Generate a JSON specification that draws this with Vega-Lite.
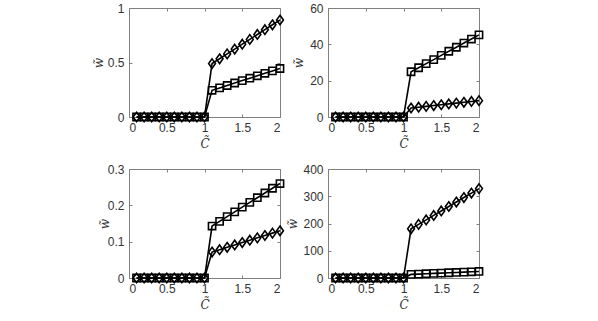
{
  "$schema": "https://vega.github.io/schema/vega-lite/v6.json",
  "background": "white",
  "padding": {"left": 92, "top": 2, "right": 5, "bottom": 5},
  "datasets": {
    "p1": [
      {"x":0.1,"y":0,"s":"sq"},{"x":0.2,"y":0,"s":"sq"},{"x":0.3,"y":0,"s":"sq"},{"x":0.4,"y":0,"s":"sq"},{"x":0.5,"y":0,"s":"sq"},{"x":0.6,"y":0,"s":"sq"},{"x":0.7,"y":0,"s":"sq"},{"x":0.8,"y":0,"s":"sq"},{"x":0.9,"y":0,"s":"sq"},{"x":1.0,"y":0,"s":"sq"},
      {"x":1.1,"y":0.245,"s":"sq"},{"x":1.2,"y":0.267,"s":"sq"},{"x":1.3,"y":0.289,"s":"sq"},{"x":1.4,"y":0.312,"s":"sq"},{"x":1.5,"y":0.334,"s":"sq"},{"x":1.6,"y":0.356,"s":"sq"},{"x":1.7,"y":0.378,"s":"sq"},{"x":1.8,"y":0.401,"s":"sq"},{"x":1.9,"y":0.423,"s":"sq"},{"x":2.0,"y":0.445,"s":"sq"},
      {"x":0.1,"y":0,"s":"di"},{"x":0.2,"y":0,"s":"di"},{"x":0.3,"y":0,"s":"di"},{"x":0.4,"y":0,"s":"di"},{"x":0.5,"y":0,"s":"di"},{"x":0.6,"y":0,"s":"di"},{"x":0.7,"y":0,"s":"di"},{"x":0.8,"y":0,"s":"di"},{"x":0.9,"y":0,"s":"di"},{"x":1.0,"y":0,"s":"di"},
      {"x":1.1,"y":0.49,"s":"di"},{"x":1.2,"y":0.534,"s":"di"},{"x":1.3,"y":0.579,"s":"di"},{"x":1.4,"y":0.623,"s":"di"},{"x":1.5,"y":0.668,"s":"di"},{"x":1.6,"y":0.712,"s":"di"},{"x":1.7,"y":0.757,"s":"di"},{"x":1.8,"y":0.801,"s":"di"},{"x":1.9,"y":0.846,"s":"di"},{"x":2.0,"y":0.89,"s":"di"}
    ],
    "p2": [
      {"x":0.1,"y":0,"s":"sq"},{"x":0.2,"y":0,"s":"sq"},{"x":0.3,"y":0,"s":"sq"},{"x":0.4,"y":0,"s":"sq"},{"x":0.5,"y":0,"s":"sq"},{"x":0.6,"y":0,"s":"sq"},{"x":0.7,"y":0,"s":"sq"},{"x":0.8,"y":0,"s":"sq"},{"x":0.9,"y":0,"s":"sq"},{"x":1.0,"y":0,"s":"sq"},
      {"x":1.1,"y":24.9,"s":"sq"},{"x":1.2,"y":27.1,"s":"sq"},{"x":1.3,"y":29.4,"s":"sq"},{"x":1.4,"y":31.6,"s":"sq"},{"x":1.5,"y":33.9,"s":"sq"},{"x":1.6,"y":36.2,"s":"sq"},{"x":1.7,"y":38.4,"s":"sq"},{"x":1.8,"y":40.7,"s":"sq"},{"x":1.9,"y":42.9,"s":"sq"},{"x":2.0,"y":45.2,"s":"sq"},
      {"x":0.1,"y":0,"s":"di"},{"x":0.2,"y":0,"s":"di"},{"x":0.3,"y":0,"s":"di"},{"x":0.4,"y":0,"s":"di"},{"x":0.5,"y":0,"s":"di"},{"x":0.6,"y":0,"s":"di"},{"x":0.7,"y":0,"s":"di"},{"x":0.8,"y":0,"s":"di"},{"x":0.9,"y":0,"s":"di"},{"x":1.0,"y":0,"s":"di"},
      {"x":1.1,"y":4.95,"s":"di"},{"x":1.2,"y":5.4,"s":"di"},{"x":1.3,"y":5.85,"s":"di"},{"x":1.4,"y":6.3,"s":"di"},{"x":1.5,"y":6.75,"s":"di"},{"x":1.6,"y":7.2,"s":"di"},{"x":1.7,"y":7.65,"s":"di"},{"x":1.8,"y":8.1,"s":"di"},{"x":1.9,"y":8.55,"s":"di"},{"x":2.0,"y":9.0,"s":"di"}
    ],
    "p3": [
      {"x":0.1,"y":0,"s":"sq"},{"x":0.2,"y":0,"s":"sq"},{"x":0.3,"y":0,"s":"sq"},{"x":0.4,"y":0,"s":"sq"},{"x":0.5,"y":0,"s":"sq"},{"x":0.6,"y":0,"s":"sq"},{"x":0.7,"y":0,"s":"sq"},{"x":0.8,"y":0,"s":"sq"},{"x":0.9,"y":0,"s":"sq"},{"x":1.0,"y":0,"s":"sq"},
      {"x":1.1,"y":0.143,"s":"sq"},{"x":1.2,"y":0.156,"s":"sq"},{"x":1.3,"y":0.169,"s":"sq"},{"x":1.4,"y":0.182,"s":"sq"},{"x":1.5,"y":0.195,"s":"sq"},{"x":1.6,"y":0.208,"s":"sq"},{"x":1.7,"y":0.221,"s":"sq"},{"x":1.8,"y":0.234,"s":"sq"},{"x":1.9,"y":0.247,"s":"sq"},{"x":2.0,"y":0.26,"s":"sq"},
      {"x":0.1,"y":0,"s":"di"},{"x":0.2,"y":0,"s":"di"},{"x":0.3,"y":0,"s":"di"},{"x":0.4,"y":0,"s":"di"},{"x":0.5,"y":0,"s":"di"},{"x":0.6,"y":0,"s":"di"},{"x":0.7,"y":0,"s":"di"},{"x":0.8,"y":0,"s":"di"},{"x":0.9,"y":0,"s":"di"},{"x":1.0,"y":0,"s":"di"},
      {"x":1.1,"y":0.0715,"s":"di"},{"x":1.2,"y":0.078,"s":"di"},{"x":1.3,"y":0.0845,"s":"di"},{"x":1.4,"y":0.091,"s":"di"},{"x":1.5,"y":0.0975,"s":"di"},{"x":1.6,"y":0.104,"s":"di"},{"x":1.7,"y":0.1105,"s":"di"},{"x":1.8,"y":0.117,"s":"di"},{"x":1.9,"y":0.1235,"s":"di"},{"x":2.0,"y":0.13,"s":"di"}
    ],
    "p4": [
      {"x":0.1,"y":0,"s":"sq"},{"x":0.2,"y":0,"s":"sq"},{"x":0.3,"y":0,"s":"sq"},{"x":0.4,"y":0,"s":"sq"},{"x":0.5,"y":0,"s":"sq"},{"x":0.6,"y":0,"s":"sq"},{"x":0.7,"y":0,"s":"sq"},{"x":0.8,"y":0,"s":"sq"},{"x":0.9,"y":0,"s":"sq"},{"x":1.0,"y":0,"s":"sq"},
      {"x":1.1,"y":13.2,"s":"sq"},{"x":1.2,"y":14.4,"s":"sq"},{"x":1.3,"y":15.6,"s":"sq"},{"x":1.4,"y":16.8,"s":"sq"},{"x":1.5,"y":18.0,"s":"sq"},{"x":1.6,"y":19.2,"s":"sq"},{"x":1.7,"y":20.4,"s":"sq"},{"x":1.8,"y":21.6,"s":"sq"},{"x":1.9,"y":22.8,"s":"sq"},{"x":2.0,"y":24.0,"s":"sq"},
      {"x":0.1,"y":0,"s":"di"},{"x":0.2,"y":0,"s":"di"},{"x":0.3,"y":0,"s":"di"},{"x":0.4,"y":0,"s":"di"},{"x":0.5,"y":0,"s":"di"},{"x":0.6,"y":0,"s":"di"},{"x":0.7,"y":0,"s":"di"},{"x":0.8,"y":0,"s":"di"},{"x":0.9,"y":0,"s":"di"},{"x":1.0,"y":0,"s":"di"},
      {"x":1.1,"y":180.4,"s":"di"},{"x":1.2,"y":196.8,"s":"di"},{"x":1.3,"y":213.2,"s":"di"},{"x":1.4,"y":229.6,"s":"di"},{"x":1.5,"y":246.0,"s":"di"},{"x":1.6,"y":262.4,"s":"di"},{"x":1.7,"y":278.8,"s":"di"},{"x":1.8,"y":295.2,"s":"di"},{"x":1.9,"y":311.6,"s":"di"},{"x":2.0,"y":328.0,"s":"di"}
    ]
  },
  "columns": 2,
  "spacing": {"row": 52, "column": 48},
  "bounds": "flush",
  "concat": [
    {
      "width": 151, "height": 109,
      "data": {"name": "p1"},
      "layer": [
        {"mark": {"type": "line", "color": "black", "strokeWidth": 1.6},
         "encoding": {
           "x": {"field": "x", "type": "quantitative", "scale": {"domain": [0, 2]}, "axis": {"orient": "bottom", "values": [0, 0.5, 1, 1.5, 2], "format": "~r", "title": "C\u0303", "titleX": 75.5, "titleY": 30, "titleBaseline": "alphabetic"}},
           "y": {"field": "y", "type": "quantitative", "scale": {"domain": [0, 1]}, "axis": {"orient": "left", "values": [0, 0.5, 1], "format": "~r", "title": "w\u0303", "titleX": -27, "titleY": 54.5, "titleBaseline": "alphabetic"}},
           "detail": {"field": "s"}}},
        {"transform": [{"filter": "datum.s === 'sq'"}],
         "mark": {"type": "point", "shape": "square", "filled": false, "color": "black", "strokeWidth": 1.6, "size": 52, "opacity": 1},
         "encoding": {
           "x": {"field": "x", "type": "quantitative", "axis": {"orient": "top", "values": [0, 0.5, 1, 1.5, 2], "labels": false, "title": null}},
           "y": {"field": "y", "type": "quantitative", "axis": {"orient": "right", "values": [0, 0.5, 1], "labels": false, "title": null}}}},
        {"transform": [{"filter": "datum.s === 'di'"}],
         "mark": {"type": "point", "shape": "M0,-1L0.72,0L0,1L-0.72,0Z", "filled": false, "color": "black", "strokeWidth": 1.6, "size": 90, "opacity": 1},
         "encoding": {
           "x": {"field": "x", "type": "quantitative", "axis": null},
           "y": {"field": "y", "type": "quantitative", "axis": null}}}
      ],
      "resolve": {"axis": {"x": "independent", "y": "independent"}}
    },
    {
      "width": 151, "height": 109,
      "data": {"name": "p2"},
      "layer": [
        {"mark": {"type": "line", "color": "black", "strokeWidth": 1.6},
         "encoding": {
           "x": {"field": "x", "type": "quantitative", "scale": {"domain": [0, 2]}, "axis": {"orient": "bottom", "values": [0, 0.5, 1, 1.5, 2], "format": "~r", "title": "C\u0303", "titleX": 75.5, "titleY": 30, "titleBaseline": "alphabetic"}},
           "y": {"field": "y", "type": "quantitative", "scale": {"domain": [0, 60]}, "axis": {"orient": "left", "values": [0, 20, 40, 60], "format": "~r", "title": "w\u0303", "titleX": -26, "titleY": 54.5, "titleBaseline": "alphabetic"}},
           "detail": {"field": "s"}}},
        {"transform": [{"filter": "datum.s === 'sq'"}],
         "mark": {"type": "point", "shape": "square", "filled": false, "color": "black", "strokeWidth": 1.6, "size": 52, "opacity": 1},
         "encoding": {
           "x": {"field": "x", "type": "quantitative", "axis": {"orient": "top", "values": [0, 0.5, 1, 1.5, 2], "labels": false, "title": null}},
           "y": {"field": "y", "type": "quantitative", "axis": {"orient": "right", "values": [0, 20, 40, 60], "labels": false, "title": null}}}},
        {"transform": [{"filter": "datum.s === 'di'"}],
         "mark": {"type": "point", "shape": "M0,-1L0.72,0L0,1L-0.72,0Z", "filled": false, "color": "black", "strokeWidth": 1.6, "size": 90, "opacity": 1},
         "encoding": {
           "x": {"field": "x", "type": "quantitative", "axis": null},
           "y": {"field": "y", "type": "quantitative", "axis": null}}}
      ],
      "resolve": {"axis": {"x": "independent", "y": "independent"}}
    },
    {
      "width": 151, "height": 109,
      "data": {"name": "p3"},
      "layer": [
        {"mark": {"type": "line", "color": "black", "strokeWidth": 1.6},
         "encoding": {
           "x": {"field": "x", "type": "quantitative", "scale": {"domain": [0, 2]}, "axis": {"orient": "bottom", "values": [0, 0.5, 1, 1.5, 2], "format": "~r", "title": "C\u0303", "titleX": 75.5, "titleY": 30, "titleBaseline": "alphabetic"}},
           "y": {"field": "y", "type": "quantitative", "scale": {"domain": [0, 0.3]}, "axis": {"orient": "left", "values": [0, 0.1, 0.2, 0.3], "format": "~r", "title": "w\u0303", "titleX": -21, "titleY": 54.5, "titleBaseline": "alphabetic"}},
           "detail": {"field": "s"}}},
        {"transform": [{"filter": "datum.s === 'sq'"}],
         "mark": {"type": "point", "shape": "square", "filled": false, "color": "black", "strokeWidth": 1.6, "size": 52, "opacity": 1},
         "encoding": {
           "x": {"field": "x", "type": "quantitative", "axis": {"orient": "top", "values": [0, 0.5, 1, 1.5, 2], "labels": false, "title": null}},
           "y": {"field": "y", "type": "quantitative", "axis": {"orient": "right", "values": [0, 0.1, 0.2, 0.3], "labels": false, "title": null}}}},
        {"transform": [{"filter": "datum.s === 'di'"}],
         "mark": {"type": "point", "shape": "M0,-1L0.72,0L0,1L-0.72,0Z", "filled": false, "color": "black", "strokeWidth": 1.6, "size": 90, "opacity": 1},
         "encoding": {
           "x": {"field": "x", "type": "quantitative", "axis": null},
           "y": {"field": "y", "type": "quantitative", "axis": null}}}
      ],
      "resolve": {"axis": {"x": "independent", "y": "independent"}}
    },
    {
      "width": 151, "height": 109,
      "data": {"name": "p4"},
      "layer": [
        {"mark": {"type": "line", "color": "black", "strokeWidth": 1.6},
         "encoding": {
           "x": {"field": "x", "type": "quantitative", "scale": {"domain": [0, 2]}, "axis": {"orient": "bottom", "values": [0, 0.5, 1, 1.5, 2], "format": "~r", "title": "C\u0303", "titleX": 75.5, "titleY": 30, "titleBaseline": "alphabetic"}},
           "y": {"field": "y", "type": "quantitative", "scale": {"domain": [0, 400]}, "axis": {"orient": "left", "values": [0, 100, 200, 300, 400], "format": "~r", "title": "w\u0303", "titleX": -32, "titleY": 54.5, "titleBaseline": "alphabetic"}},
           "detail": {"field": "s"}}},
        {"transform": [{"filter": "datum.s === 'sq'"}],
         "mark": {"type": "point", "shape": "square", "filled": false, "color": "black", "strokeWidth": 1.6, "size": 52, "opacity": 1},
         "encoding": {
           "x": {"field": "x", "type": "quantitative", "axis": {"orient": "top", "values": [0, 0.5, 1, 1.5, 2], "labels": false, "title": null}},
           "y": {"field": "y", "type": "quantitative", "axis": {"orient": "right", "values": [0, 100, 200, 300, 400], "labels": false, "title": null}}}},
        {"transform": [{"filter": "datum.s === 'di'"}],
         "mark": {"type": "point", "shape": "M0,-1L0.72,0L0,1L-0.72,0Z", "filled": false, "color": "black", "strokeWidth": 1.6, "size": 90, "opacity": 1},
         "encoding": {
           "x": {"field": "x", "type": "quantitative", "axis": null},
           "y": {"field": "y", "type": "quantitative", "axis": null}}}
      ],
      "resolve": {"axis": {"x": "independent", "y": "independent"}}
    }
  ],
  "config": {
    "view": {"stroke": null},
    "axis": {
      "grid": false,
      "labelFont": "Liberation Sans",
      "labelFontSize": 12,
      "labelColor": "#333333",
      "domainColor": "#808080",
      "domainWidth": 1,
      "tickColor": "#808080",
      "tickSize": -3,
      "tickWidth": 1,
      "labelPadding": 8,
      "titleFont": "DejaVu Serif",
      "titleFontStyle": "italic",
      "titleFontWeight": "normal",
      "titleFontSize": 12,
      "titleColor": "#333333"
    }
  }
}
